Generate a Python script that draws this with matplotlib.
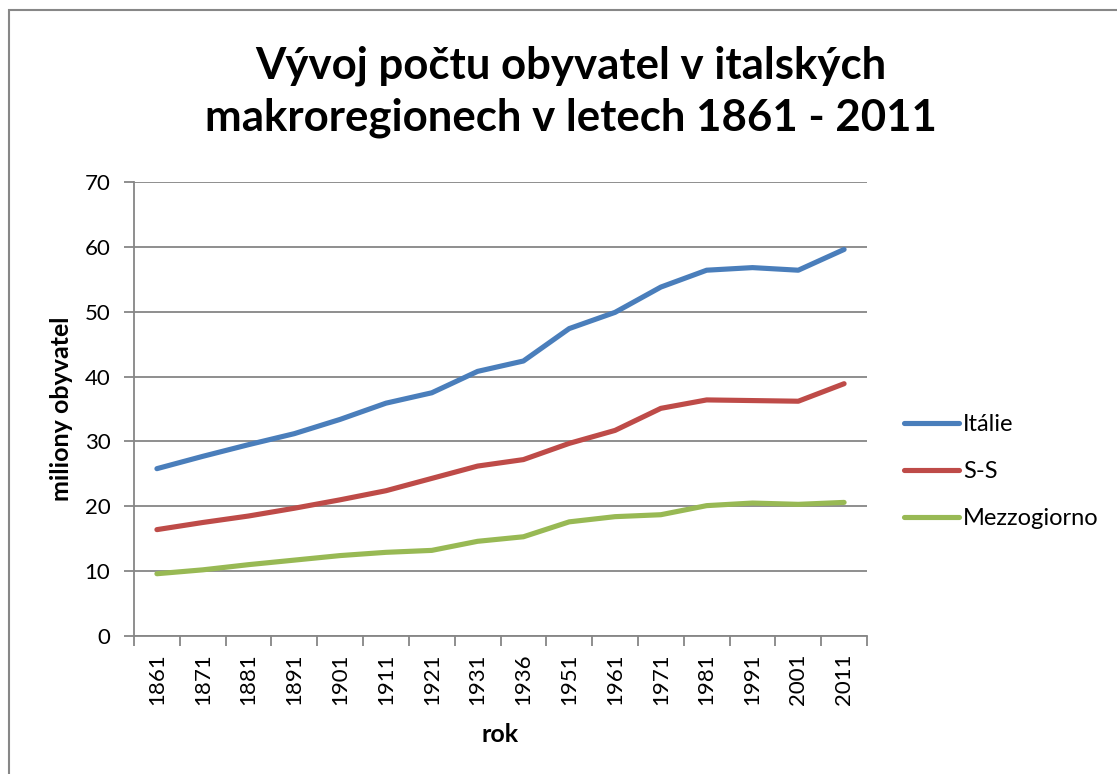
import matplotlib.pyplot as plt
from matplotlib.patches import Rectangle
import numpy as np

roky = ['1861', '1871', '1881', '1891', '1901', '1911', '1921', '1931', '1936',
        '1951', '1961', '1971', '1981', '1991', '2001', '2011']
italie = [25.8, 27.7, 29.5, 31.2, 33.4, 35.9, 37.5, 40.8, 42.4, 47.4, 49.9, 53.8, 56.4, 56.8, 56.4, 59.6]
sever = [16.4, 17.5, 18.5, 19.7, 21.0, 22.4, 24.3, 26.2, 27.2, 29.7, 31.7, 35.1, 36.4, 36.3, 36.2, 38.9]
jih = [9.6, 10.2, 11.0, 11.7, 12.4, 12.9, 13.2, 14.6, 15.3, 17.6, 18.4, 18.7, 20.1, 20.5, 20.3, 20.6]

plt.rcParams['font.family'] = ['Lato', 'DejaVu Sans']

fig = plt.figure(figsize=(11.17, 7.74), dpi=100)
ax = fig.add_axes([134/1117, 1 - 636/774, (867 - 134)/1117, (636 - 182)/774])

# ramecek kolem celeho grafu
fig.patches.append(Rectangle((9/1117, -0.1), 1.2, 1 - 10/774 + 0.1, transform=fig.transFigure,
                             fill=False, edgecolor='#878787', linewidth=1.5))

x = np.arange(len(roky))
ax.plot(x, italie, color='#4A7EBB', lw=3.7, label='Itálie', solid_capstyle='round')
ax.plot(x, sever, color='#BE4B48', lw=3.7, label='S-S', solid_capstyle='round')
ax.plot(x, jih, color='#98B954', lw=3.7, label='Mezzogiorno', solid_capstyle='round')

ax.set_xlim(-0.5, len(roky) - 0.5)
ax.set_ylim(0, 70)
ax.set_yticks(range(0, 71, 10))
ax.grid(axis='y', color='#868686', lw=1.3)
ax.set_axisbelow(True)

# carky mezi kategoriemi, popisky uprostred
ax.set_xticks(np.arange(-0.5, len(roky)), labels=[])
ax.set_xticks(x, labels=roky, minor=True, rotation=90)
ax.tick_params(axis='x', which='major', length=7, color='#868686', width=1.3)
ax.tick_params(axis='x', which='minor', length=0, labelsize=16, pad=12.5)
ax.tick_params(axis='y', length=7, color='#868686', width=1.3, labelsize=16, pad=10)

for s in ['top', 'right']:
    ax.spines[s].set_visible(False)
for s in ['left', 'bottom']:
    ax.spines[s].set_color('#868686')
    ax.spines[s].set_linewidth(1.3)

ax.set_xlabel('rok', fontsize=18, fontweight='bold', labelpad=13)
ax.set_ylabel('miliony obyvatel', fontsize=18, fontweight='bold', labelpad=8)

fig.text(0.511, 0.882, 'Vývoj počtu obyvatel v italských\nmakroregionech v letech 1861 - 2011',
         ha='center', va='center', fontsize=31.5, fontweight='bold', linespacing=1.35)

ax.legend(loc='center left', bbox_to_anchor=(1.022, 0.362), frameon=False, fontsize=17,
          handlelength=2.33, handletextpad=0.15, labelspacing=1.1)

fig.savefig('out.png', dpi=100)
